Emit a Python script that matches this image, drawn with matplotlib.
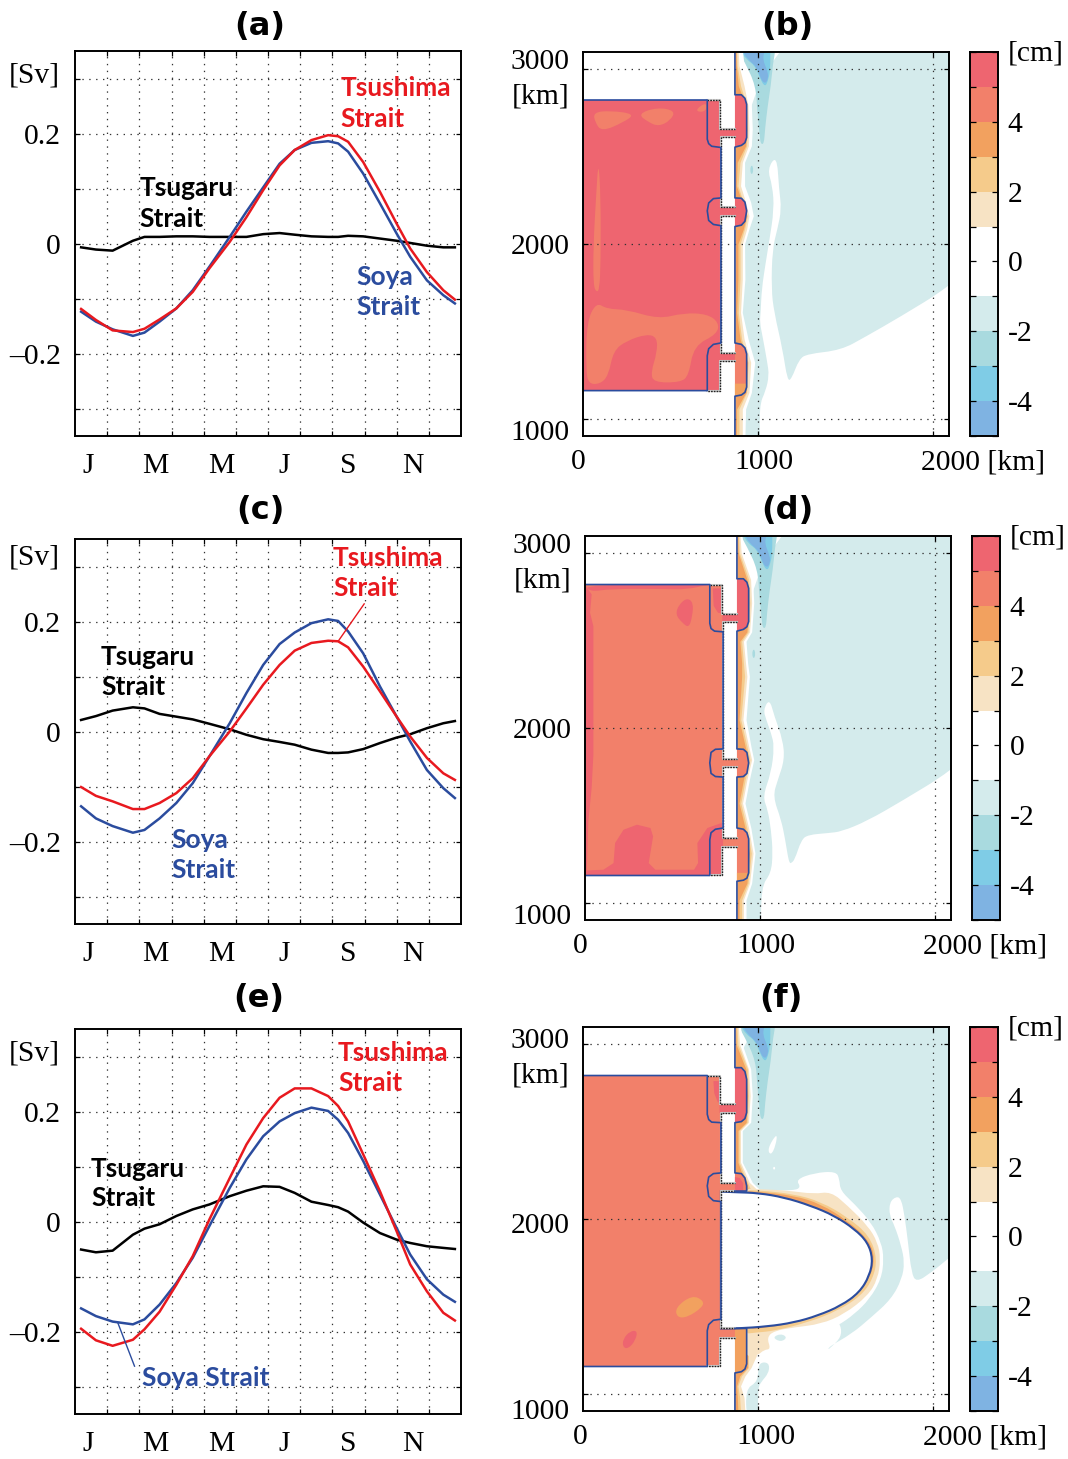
import numpy as np
import matplotlib
matplotlib.use('Agg')
import matplotlib.pyplot as plt
from matplotlib.colors import ListedColormap
from matplotlib.patches import PathPatch
from matplotlib.path import Path

# ---------------------------------------------------------------- line data
months = [0.19, 0.65, 1.17, 1.80, 2.16, 2.63, 3.15, 3.66, 4.18, 4.81, 5.33,
          5.85, 6.36, 6.83, 7.35, 7.87, 8.18, 8.49, 8.96, 9.48, 10.0, 10.42,
          10.94, 11.45, 11.81]
month_labels = ['J', 'M', 'M', 'J', 'S', 'N']

tsushima_a = [-.119, -.139, -.158, -.161, -.155, -.138, -.118, -.088, -.045,
              .003, .048, .097, .142, .170, .188, .197, .195, .185, .148,
              .094, .036, -.009, -.052, -.085, -.102]
soya_a = [-.124, -.142, -.156, -.168, -.162, -.142, -.118, -.085, -.042, .012,
          .058, .102, .145, .170, .183, .186, .182, .167, .127, .073, .018,
          -.024, -.067, -.094, -.109]
tsugaru_a = [-.007, -.011, -.013, .005, .012, .012, .013, .013, .012, .012,
             .012, .017, .019, .016, .013, .012, .012, .014, .013, .009, .005,
             .001, -.004, -.007, -.007]

tsushima_c = [-.101, -.117, -.127, -.141, -.141, -.130, -.112, -.085, -.045,
              0, .042, .085, .121, .147, .161, .165, .164, .153, .118, .073,
              .027, -.009, -.048, -.076, -.088]
soya_c = [-.136, -.158, -.172, -.184, -.179, -.158, -.130, -.094, -.045, .015,
          .070, .121, .159, .180, .197, .204, .201, .182, .142, .082, .027,
          -.018, -.070, -.103, -.121]
tsugaru_c = [.021, .028, .038, .044, .042, .032, .027, .022, .014, .004, -.006,
             -.014, -.019, -.024, -.033, -.039, -.039, -.038, -.032, -.021,
             -.011, -.005, .006, .015, .019]

tsushima_e = [-.195, -.216, -.226, -.215, -.196, -.164, -.115, -.063, .004,
              .079, .140, .188, .225, .242, .242, .228, .210, .182, .122, .055,
              -.018, -.078, -.127, -.166, -.180]
soya_e = [-.158, -.172, -.182, -.187, -.178, -.151, -.112, -.066, -.008, .061,
          .113, .155, .182, .197, .207, .201, .185, .161, .110, .049, -.012,
          -.060, -.105, -.133, -.146]
tsugaru_e = [-.051, -.056, -.053, -.024, -.013, -.005, .010, .022, .031, .046,
             .056, .064, .063, .052, .036, .030, .026, .018, -.002, -.021,
             -.033, -.039, -.045, -.048, -.050]

# ---------------------------------------------------------------- colour levels (cm)
levels = [-5, -4, -3, -2, -1, 1, 2, 3, 4, 5, 6]
blu4, blu3, blu2, pale = '#7fb3e2', '#7fcce6', '#a9dadf', '#d4ebec'
beige, yel, org, sal, red = '#f7e3c4', '#f5cb8b', '#f2a15f', '#f2806a', '#ee6570'
level_colors = [blu4, blu3, blu2, pale, 'white', beige, yel, org, sal, red]

# ---------------------------------------------------------------- map outlines (km)
# shared water-mass tongue at the top of the open ocean
tongue2 = [(885, 3300), (1100, 3300), (1100, 3110), (1086, 3041), (1073, 2907),
           (1055, 2790), (1040, 2660), (1034, 2573), (1015, 2573), (1010, 2621),
           (996, 2754), (987, 2907), (925, 3040), (885, 3110)]
tongue3 = [(900, 3300), (1070, 3300), (1070, 3110), (1070, 3003), (1060, 2945),
           (1040, 2895), (1006, 2960), (985, 3020), (930, 3060), (900, 3110)]
tongue4 = [(910, 3300), (1040, 3300), (1040, 3110), (1025, 3060), (1057, 2984),
           (1057, 2945), (1040, 2917), (1015, 2945), (996, 3012), (939, 3060),
           (910, 3110)]
spot = [(964, 2458), (975, 2425), (964, 2392), (953, 2425)]
north_bulge = [(868, 2855), (905, 2855), (925, 2835), (935, 2800), (935, 2610),
               (925, 2580), (905, 2565), (868, 2555)]

# panel b
basin_b = [(0, 2825), (780, 2825), (780, 2660), (868, 2660), (868, 2612),
           (788, 2612), (788, 2210), (868, 2210), (868, 2162), (788, 2162),
           (788, 1375), (868, 1375), (868, 1327), (780, 1327), (780, 1160),
           (0, 1160)]
pale_b = [(868, 3300), (2300, 3300), (2300, 1950), (2091, 1754), (1811, 1582),
          (1611, 1467), (1474, 1392), (1283, 1370), (1235, 1341), (1191, 1226),
          (1168, 1217), (1140, 1398), (1092, 1608), (1076, 1742), (1082, 1971),
          (1111, 2086), (1134, 2200), (1120, 2315), (1107, 2510), (1053, 2430),
          (1082, 2334), (1092, 2200), (1063, 2010), (1044, 1895), (1021, 1742),
          (1015, 1608), (1010, 1551), (1025, 1475), (1053, 1322), (1063, 1246),
          (1044, 1160), (1006, 1074), (1015, 800), (929, 800), (868, 800)]
coast_y_b = [3300, 3022, 2907, 2793, 2659, 2563, 2468, 2334, 2239, 2162, 2086,
             2000, 1799, 1608, 1456, 1322, 1150, 1055, 890]
white_b = [891, 920, 948, 962, 967, 962, 923, 923, 958, 973, 948, 923, 925,
           910, 943, 981, 962, 929, 925]
beige_b = [876, 891, 920, 943, 948, 945, 910, 900, 929, 948, 935, 910, 910, 900,
           920, 958, 948, 910, 910]
yel_b = [872, 881, 900, 935, 939, 935, 897, 885, 916, 939, 923, 897, 897, 887,
         906, 943, 935, 891, 891]
org_b = [870, 876, 887, 929, 935, 929, 881, 876, 910, 935, 916, 885, 885, 878,
         897, 939, 931, 878, 876]
mid_bulge_b = [(868, 2264), (905, 2262), (925, 2240), (935, 2190), (925, 2130),
               (905, 2108), (868, 2100)]
south_bulge_b = [(868, 1433), (905, 1425), (925, 1405), (935, 1370), (935, 1180),
                 (925, 1150), (905, 1135), (868, 1128)]
south_inner_b = [(868, 1200), (935, 1200), (935, 1180), (925, 1150), (905, 1135),
                 (868, 1128)]
west_b = [(0, 2825), (710, 2825), (710, 2600), (718, 2575), (735, 2560),
          (788, 2553), (788, 2264), (745, 2260), (718, 2235), (710, 2190),
          (718, 2135), (745, 2112), (788, 2105), (788, 1433), (745, 1425),
          (718, 1400), (710, 1360), (710, 1160), (0, 1160)]
patch_b1 = [(59, 2754), (155, 2764), (298, 2745), (231, 2697), (107, 2644),
            (69, 2697)]
patch_b2 = [(312, 2745), (423, 2783), (528, 2764), (499, 2707), (432, 2674),
            (375, 2697)]
patch_b3 = [(646, 2773), (705, 2812), (705, 2764), (662, 2754)]
patch_b4 = [(88, 2483), (101, 2277), (101, 1895), (94, 1742), (78, 1723),
            (59, 1761), (59, 1990), (75, 2277)]
patch_b5 = [(21, 1551), (75, 1666), (136, 1628), (250, 1624), (432, 1570),
            (575, 1605), (709, 1599), (776, 1551), (767, 1484), (633, 1417),
            (604, 1246), (556, 1207), (403, 1207), (388, 1265), (423, 1379),
            (423, 1465), (365, 1484), (250, 1446), (174, 1389), (145, 1246),
            (98, 1198), (31, 1198), (17, 1284)]

# panel d
basin_d = [(0, 2822), (785, 2822), (785, 2654), (868, 2654), (868, 2608),
           (789, 2608), (789, 1822), (868, 1822), (868, 1776), (789, 1776),
           (789, 1369), (868, 1369), (868, 1321), (785, 1321), (785, 1155),
           (0, 1155)]
pale_d = [(868, 3300), (2300, 3300), (2300, 1950), (2092, 1754), (1811, 1582),
          (1611, 1467), (1466, 1407), (1389, 1398), (1274, 1388), (1236, 1359),
          (1198, 1245), (1178, 1226), (1169, 1226), (1159, 1264), (1144, 1359),
          (1121, 1474), (1073, 1608), (1102, 1704), (1140, 1818), (1130, 1933),
          (1082, 2067), (1054, 2168), (1019, 2105), (1035, 2048), (1063, 1971),
          (1082, 1895), (1063, 1742), (1015, 1608), (1044, 1532), (1063, 1417),
          (1073, 1283), (1063, 1168), (1006, 1092), (1006, 800), (935, 800),
          (868, 800)]
coast_y_d = [3300, 3004, 2851, 2717, 2551, 2497, 2373, 2296, 2048, 1895, 1818,
             1704, 1570, 1426, 1283, 1111, 1015, 890]
white_d = [878, 906, 958, 964, 952, 920, 929, 939, 920, 948, 964, 939, 914, 948,
           971, 952, 920, 920]
beige_d = [872, 892, 946, 952, 940, 905, 917, 925, 902, 935, 952, 925, 900, 935,
           960, 940, 905, 905]
yel_d = [870, 882, 935, 942, 932, 895, 905, 912, 890, 925, 942, 915, 890, 925,
         950, 932, 895, 895]
org_d = [868, 875, 925, 935, 925, 885, 895, 895, 880, 915, 935, 905, 880, 915,
         940, 925, 880, 880]
mid_bulge_d = [(868, 1880), (905, 1878), (925, 1860), (935, 1800), (925, 1740),
               (905, 1722), (868, 1719)]
south_bulge_d = [(868, 1427), (905, 1420), (925, 1400), (935, 1365), (935, 1170),
                 (925, 1140), (905, 1128), (868, 1122)]
south_inner_d = [(868, 1170), (935, 1170), (935, 1160), (925, 1140), (905, 1128),
                 (868, 1122)]
west_d = [(0, 2822), (713, 2822), (713, 2600), (720, 2570), (740, 2555),
          (789, 2551), (789, 1880), (745, 1878), (720, 1860), (713, 1800),
          (720, 1740), (745, 1722), (789, 1719), (789, 1427), (745, 1420),
          (720, 1400), (713, 1360), (713, 1155), (0, 1155)]
edge_d1 = [(0, 2822), (38, 2765), (29, 2660), (48, 2583), (48, 1848), (38, 1657),
           (19, 1465), (10, 1178), (0, 1155), (-100, 1155), (-100, 2822)]
edge_d2 = [(0, 2822), (785, 2822), (700, 2822), (585, 2793), (431, 2797),
           (144, 2797), (29, 2780)]
patch_d1 = [(584, 2746), (619, 2717), (613, 2640), (594, 2574), (556, 2602),
            (517, 2650), (536, 2707)]
patch_d2 = [(10, 1184), (105, 1188), (163, 1226), (172, 1341), (220, 1417),
            (297, 1446), (374, 1427), (389, 1379), (364, 1226), (402, 1188),
            (623, 1188), (646, 1226), (642, 1341), (699, 1427), (789, 1459),
            (789, 1360), (785, 1155), (0, 1155)]
strait_d = [(730, 2800), (785, 2800), (785, 2608), (868, 2608), (868, 2654),
            (800, 2654), (760, 2660), (735, 2700)]

# panel f
basin_f = [(0, 2822), (780, 2822), (780, 2656), (868, 2656), (868, 2608),
           (788, 2608), (788, 2205), (868, 2205), (868, 2162), (788, 2162),
           (788, 1373), (868, 1373), (868, 1321), (780, 1321), (780, 1155),
           (0, 1155)]
pale_f = [(868, 3300), (2300, 3300), (2300, 1960), (2096, 1780), (1990, 1694),
          (1904, 1637), (1876, 1694), (1857, 1866), (1837, 2019), (1818, 2115),
          (1790, 2130), (1751, 2096), (1751, 2019), (1780, 1962), (1818, 1847),
          (1837, 1751), (1822, 1656), (1761, 1541), (1646, 1436), (1532, 1340),
          (1407, 1270), (1398, 1245), (1500, 1350), (1400, 1500), (1000, 1800),
          (1000, 2120), (868, 2120)]
blob_f1 = [(1111, 2497), (1053, 2402), (1073, 2363), (1101, 2420)]
blob_f2 = [(1092, 2302), (1100, 2291), (1092, 2280), (1084, 2291)]
halo_f = [(1015, 2163), (1206, 2163), (1245, 2182), (1216, 2226), (1321, 2264),
          (1445, 2273), (1465, 2229), (1470, 2163), (1551, 2086), (1646, 1981),
          (1704, 1866), (1719, 1771), (1704, 1656), (1637, 1541), (1551, 1455),
          (1455, 1388), (1321, 1321), (1206, 1273), (996, 1273), (996, 1331),
          (1000, 1700)]
beige_f = [(1000, 2172), (1168, 2163), (1321, 2143), (1417, 2157), (1512, 2076),
           (1627, 1962), (1684, 1866), (1700, 1771), (1684, 1656), (1627, 1560),
           (1493, 1455), (1359, 1398), (1206, 1379), (1092, 1359), (1050, 1321),
           (1073, 1254), (1034, 1251), (996, 1216), (900, 1216), (900, 2172)]
yel_f = [(900, 2165), (1000, 2165), (1206, 2143), (1359, 2099), (1512, 2010),
         (1637, 1905), (1681, 1771), (1656, 1656), (1589, 1560), (1455, 1474),
         (1283, 1407), (1092, 1359), (996, 1350), (900, 1340)]
org_f = [(900, 2160), (1000, 2157), (1206, 2134), (1359, 2086), (1512, 1990),
         (1637, 1876), (1669, 1771), (1637, 1656), (1570, 1570), (1436, 1484),
         (1264, 1417), (1053, 1375), (900, 1369)]
ellipse_f = [(788, 2157), (788, 2157), (881, 2153), (1000, 2149), (1149, 2124),
             (1302, 2076), (1436, 2019), (1551, 1943), (1627, 1866), (1656, 1771),
             (1637, 1675), (1579, 1579), (1474, 1503), (1340, 1446), (1206, 1407),
             (1053, 1384), (881, 1373), (788, 1373), (788, 1373)]
coast_y_f = [3300, 3000, 2860, 2707, 2554, 2507, 2325, 2268, 2210, 2163]
white_f = [881, 910, 958, 967, 958, 910, 910, 939, 967, 1015]
beige_f2 = [872, 895, 945, 955, 945, 900, 900, 925, 950, 1000]
yel_f2 = [870, 885, 940, 945, 938, 892, 892, 915, 940, 960]
org_f2 = [868, 875, 930, 940, 932, 885, 885, 905, 935, 945]
low_y_f = [1373, 1293, 1216, 1149, 1101, 1044, 977, 890]
beige_low_f = [996, 996, 990, 960, 925, 900, 920, 925]
yel_low_f = [945, 945, 945, 945, 905, 885, 895, 900]
org_low_f = [940, 940, 940, 940, 895, 878, 882, 885]
pale_low_f1 = [(1082, 1321), (1130, 1344), (1168, 1321), (1130, 1295)]
pale_low_f2 = [(1006, 1178), (1063, 1178), (1063, 1120), (1015, 1063),
               (1000, 1030), (1000, 850), (935, 850), (929, 1025), (990, 1063),
               (1000, 1110)]
north_bulge_f = [(868, 2867), (905, 2867), (925, 2845), (935, 2800), (935, 2610),
                 (925, 2575), (905, 2558), (868, 2552)]
mid_bulge_f = [(868, 2264), (905, 2260), (925, 2235), (935, 2190), (935, 2160),
               (868, 2160)]
mid_inner_f = [(868, 2240), (895, 2235), (915, 2205), (915, 2160), (868, 2160)]
south_bulge_f = [(868, 1373), (935, 1373), (935, 1170), (925, 1140), (905, 1125),
                 (868, 1118)]
west_f = [(0, 2822), (710, 2822), (710, 2600), (718, 2570), (735, 2555),
          (788, 2552), (788, 2264), (745, 2260), (718, 2240), (710, 2190),
          (718, 2130), (745, 2105), (788, 2100), (788, 1426), (745, 1420),
          (718, 1395), (710, 1360), (710, 1155), (0, 1155)]
patch_f1 = [(312, 1359), (298, 1302), (260, 1258), (228, 1264), (228, 1312),
            (270, 1359)]
patch_f2 = [(528, 1493), (623, 1564), (690, 1532), (681, 1493), (595, 1436),
            (537, 1436)]
strait_f = [(745, 2790), (780, 2790), (780, 2608), (868, 2608), (868, 2656),
            (800, 2656), (770, 2670), (750, 2720)]

# ---------------------------------------------------------------- style
W, H = 1068, 1459
SERIF = 'Liberation Serif'
LABEL = 'Lato'
TITLE = 'DejaVu Sans'
c_red, c_blue = '#e8191f', '#2b4c9e'
FS = 21.3


def add_axes_px(fig, x0, y0, x1, y1):
    return fig.add_axes([x0 / W, 1 - y1 / H, (x1 - x0) / W, (y1 - y0) / H])


def smooth(ax, pts, color, **kw):
    # closed quadratic-bezier outline through the edge midpoints
    pts = np.asarray(pts, dtype=float)
    mids = (pts + np.roll(pts, -1, axis=0)) / 2
    verts, codes = [mids[-1]], [Path.MOVETO]
    for p, m in zip(pts, mids):
        verts += [p, m]
        codes += [Path.CURVE3, Path.CURVE3]
    ax.add_patch(PathPatch(Path(verts, codes), fc=color, ec=kw.pop('ec', 'none'),
                           lw=kw.pop('lw', 0), **kw))


def poly(ax, pts, color):
    ax.fill(*zip(*pts), color=color, lw=0)


def grid_style(ax):
    ax.grid(True, color='#333333', lw=0.9, ls=(0, (1.1, 4.4)))
    ax.tick_params(direction='in', top=True, right=True, length=3.5, width=0.9)
    for sp in ax.spines.values():
        sp.set_linewidth(1.4)


def title(fig, x, y, txt):
    fig.text(x / W, 1 - y / H, txt, ha='center', va='center', family=TITLE,
             weight='bold', fontsize=23)


def line_panel(fig, box, tsushima, soya, tsugaru, panel, title_x, title_y,
               sv_y, labels, leader=None):
    ax = add_axes_px(fig, *box)
    ax.set_xlim(0, 12)
    ax.set_ylim(-0.35, 0.35)
    ax.set_xticks(range(1, 12))
    ax.set_xticklabels([])
    ax.set_yticks(np.arange(-3, 4) / 10)
    ax.set_yticklabels(['', '–0.2', '', '0', '', '0.2', ''], family=SERIF,
                       fontsize=FS)
    ax.tick_params(axis='y', pad=10)
    grid_style(ax)
    ax.plot(months, tsugaru, color='black', lw=1.8)
    ax.plot(months, soya, color=c_blue, lw=1.8)
    ax.plot(months, tsushima, color=c_red, lw=1.8)
    for xm, lab in zip([0.4, 2.5, 4.55, 6.5, 8.5, 10.5], month_labels):
        ax.text(xm, -0.078, lab, transform=ax.get_xaxis_transform(), ha='center',
                va='center', family=SERIF, fontsize=FS)
    ax.text(-0.039, sv_y, '[Sv]', ha='right', va='center', family=SERIF,
            fontsize=FS, transform=ax.get_yaxis_transform())
    for x, y, txt, col in labels:
        ax.text(x, y, txt, color=col, family=LABEL, weight='bold', fontsize=19,
                ha='left', va='center')
    if leader:
        ax.plot(leader[0], leader[1], color=leader[2], lw=1.0)
    title(fig, title_x, title_y, panel)
    return ax


def base_map(fig, box, basin, base_col, px_off=0):
    ax = add_axes_px(fig, *box)
    ax.set_xlim(0, 2091)
    ax.set_ylim(900, 3100)
    ax.set_xticks([1000, 2000])
    ax.set_yticks([1000, 2000, 3000])
    ax.set_xticklabels([])
    ax.set_yticklabels([])
    grid_style(ax)
    poly(ax, basin, base_col)
    # labels are set by hand, the axis tick labels would not line up
    for y, txt in zip([3043 - px_off * 5.7, 2843 - px_off * 5.7, 1983 - px_off * 5.7,
                       916 - px_off * 5.7],
                      ['3000', '[km]', '2000', '1000']):
        ax.text(-0.037, y, txt, ha='right', va='center', family=SERIF, fontsize=FS,
                transform=ax.get_yaxis_transform())
    xoff = 2 if px_off else 0
    ax.text((-5 + xoff) / 366, -0.068, '0', ha='center', va='center', family=SERIF,
            fontsize=FS, transform=ax.transAxes)
    ax.text((181 + xoff) / 366, -0.068, '1000', ha='center', va='center',
            family=SERIF, fontsize=FS, transform=ax.transAxes)
    ax.text((338 + xoff) / 366, -0.068, '2000 [km]', ha='left', va='center',
            family=SERIF, fontsize=FS, transform=ax.transAxes)
    return ax


def east_side(ax, pale_poly, y, wh, be, ye, og):
    smooth(ax, pale_poly, pale)
    smooth(ax, tongue2, blu2)
    smooth(ax, spot, blu2)
    smooth(ax, tongue3, blu3)
    smooth(ax, tongue4, blu4)
    for xs, col in zip([wh, be, ye, og], ['white', beige, yel, org]):
        ax.fill_betweenx(y, 868, xs, color=col, lw=0)


def finish_map(ax, basin, west, east):
    # coast of each land piece, the strait mouths stay open
    north = [west[1]] + basin[1:4]
    south = basin[12:15] + [west[-2]]
    for seg in [north, basin[4:8], basin[8:12], south]:
        ax.plot(*zip(*seg), color='#d0d0d0', lw=1.5)
        ax.plot(*zip(*seg), color='#222222', lw=1.0, ls=(0, (1.2, 0.8)))
    ax.plot(*zip(*west), color=c_blue, lw=1.2)
    ax.plot(*zip(*east), color=c_blue, lw=1.2)


def colorbar(fig, box):
    cax = add_axes_px(fig, *box)
    cax.pcolormesh([0, 1], levels, np.arange(len(level_colors))[:, None],
                   cmap=ListedColormap(level_colors), vmin=-0.5,
                   vmax=len(level_colors) - 0.5)
    cax.set_xticks([])
    cax.set_yticks(range(-5, 7))
    cax.set_yticklabels(['', '-4', '', '-2', '', '0', '', '2', '', '4', '', ''],
                        family=SERIF, fontsize=FS)
    cax.tick_params(axis='y', direction='in', left=True, right=True, labelleft=False,
                    labelright=True, length=4, width=0.9, pad=7)
    for sp in cax.spines.values():
        sp.set_linewidth(1.4)
    cax.text(1.36, 0.995, '[cm]', ha='left', va='center', family=SERIF, fontsize=FS,
             transform=cax.transAxes)


fig = plt.figure(figsize=(W / 100, H / 100), dpi=100)

# ---------------------------------------------------------------- line panels
line_panel(fig, (75, 51, 461, 436), tsushima_a, soya_a, tsugaru_a, '(a)', 260, 26, 0.305,
           [(8.25, .282, 'Tsushima', c_red), (8.25, .227, 'Strait', c_red),
            (2.0, .100, 'Tsugaru', 'black'), (2.0, .045, 'Strait', 'black'),
            (8.75, -.061, 'Soya', c_blue), (8.75, -.115, 'Strait', c_blue)])
line_panel(fig, (75, 539, 461, 924), tsushima_c, soya_c, tsugaru_c, '(c)', 260, 510, 0.316,
           [(8.02, .315, 'Tsushima', c_red), (8.02, .261, 'Strait', c_red),
            (0.81, .135, 'Tsugaru', 'black'), (0.81, .081, 'Strait', 'black'),
            (3.01, -.198, 'Soya', c_blue), (3.01, -.252, 'Strait', c_blue)],
           leader=([8.18, 8.99], [.164, .232], c_red))
line_panel(fig, (75, 1029, 461, 1414), tsushima_e, soya_e, tsugaru_e, '(e)', 259, 998, 0.305,
           [(8.18, .307, 'Tsushima', c_red), (8.18, .252, 'Strait', c_red),
            (0.5, .096, 'Tsugaru', 'black'), (0.5, .042, 'Strait', 'black'),
            (2.08, -.285, 'Soya Strait', c_blue)],
           leader=([1.33, 1.85], [-.184, -.263], c_blue))

# ---------------------------------------------------------------- panel b
ax = base_map(fig, (583, 52, 949, 436), basin_b, red)
east_side(ax, pale_b, coast_y_b, white_b, beige_b, yel_b, org_b)
for p in [patch_b1, patch_b2, patch_b3, patch_b4, patch_b5]:
    smooth(ax, p, sal)
poly(ax, north_bulge, red)
poly(ax, mid_bulge_b, red)
poly(ax, south_bulge_b, sal)
poly(ax, south_inner_b, org)
finish_map(ax, basin_b, west_b,
           [(868, 3300)] + north_bulge + mid_bulge_b + south_bulge_b + [(868, 800)])
colorbar(fig, (970, 52, 998, 436))
title(fig, 787, 26, '(b)')

# ---------------------------------------------------------------- panel d
ax = base_map(fig, (585, 536, 951, 920), basin_d, sal)
east_side(ax, pale_d, coast_y_d, white_d, beige_d, yel_d, org_d)
poly(ax, edge_d1, red)
smooth(ax, edge_d2, red)
smooth(ax, patch_d1, red)
poly(ax, patch_d2, red)
poly(ax, strait_d, red)
poly(ax, north_bulge, red)
poly(ax, mid_bulge_d, sal)
poly(ax, south_bulge_d, sal)
poly(ax, south_inner_d, org)
finish_map(ax, basin_d, west_d,
           [(868, 3300)] + north_bulge + mid_bulge_d + south_bulge_d + [(868, 800)])
colorbar(fig, (972, 536, 1000, 920))
title(fig, 787, 510, '(d)')

# ---------------------------------------------------------------- panel f
ax = base_map(fig, (583, 1027, 949, 1411), basin_f, sal, px_off=4)
smooth(ax, pale_f, pale)
smooth(ax, tongue2, blu2)
smooth(ax, tongue3, blu3)
smooth(ax, tongue4, blu4)
smooth(ax, blob_f1, 'white')
smooth(ax, blob_f2, 'white')
smooth(ax, halo_f, 'white')
smooth(ax, pale_low_f1, pale)
smooth(ax, pale_low_f2, pale)
for xs, col in zip([white_f, beige_f2, yel_f2, org_f2], ['white', beige, yel, org]):
    ax.fill_betweenx(coast_y_f, 868, xs, color=col, lw=0)
for xs, col in zip([beige_low_f, yel_low_f, org_low_f], [beige, yel, org]):
    ax.fill_betweenx(low_y_f, 868, xs, color=col, lw=0)
smooth(ax, beige_f, beige)
smooth(ax, yel_f, yel)
smooth(ax, org_f, org)
smooth(ax, ellipse_f, 'white', ec=c_blue, lw=1.5, zorder=1.2)
smooth(ax, patch_f1, red)
smooth(ax, patch_f2, org)
poly(ax, strait_f, red)
poly(ax, north_bulge_f, red)
poly(ax, mid_bulge_f, sal)
poly(ax, mid_inner_f, red)
poly(ax, south_bulge_f, org)
finish_map(ax, basin_f, west_f,
           [(868, 3300)] + north_bulge_f + mid_bulge_f)
ax.plot(*zip(*(south_bulge_f + [(868, 800)])), color=c_blue, lw=1.2)
colorbar(fig, (970, 1027, 998, 1411))
title(fig, 781, 998, '(f)')

fig.savefig('out.png', dpi=100)
